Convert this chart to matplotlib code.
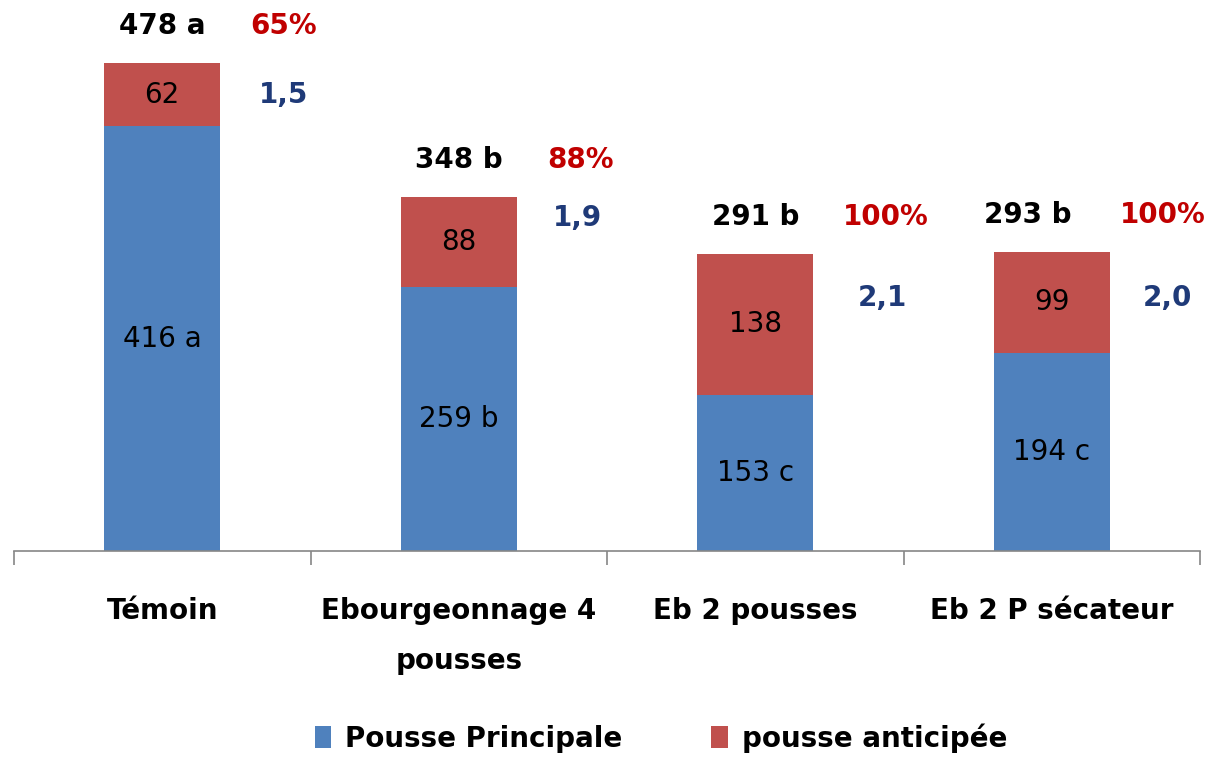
import matplotlib.pyplot as plt
import numpy as np

# Data
categories = ["Témoin", "Ebourgeonnage 4\npousses", "Eb 2 pousses", "Eb 2 P sécateur"]
principale = [416, 259, 153, 194]
anticipee = [62, 88, 138, 99]
principale_labels = ["416 a", "259 b", "153 c", "194 c"]
anticipee_labels = ["62", "88", "138", "99"]
total_labels = ["478 a", "348 b", "291 b", "293 b"]
pct_labels = ["65%", "88%", "100%", "100%"]
ratio_labels = ["1,5", "1,9", "2,1", "2,0"]

# annotation placement (data units)
ratio_y = [447, 326, 248, 248]
total_dx = [0.0, 0.0, 0.0, -0.08]
pct_dx = [0.41, 0.41, 0.44, 0.375]
ratio_dx = [0.41, 0.40, 0.43, 0.39]

BLUE = "#4F81BD"
RED = "#C0504D"
PCT_RED = "#C00000"
NAVY = "#1F3A78"
AXIS_GRAY = "#868686"

plt.rcParams["font.family"] = ["DejaVu Sans"]

fig = plt.figure(figsize=(12.06, 7.58), dpi=100)
ax = fig.add_axes([14 / 1206, 1 - 551 / 758, (1200 - 14) / 1206, (551 - 40.5) / 758])

x = np.arange(len(categories))
width = 0.39
principale = np.array(principale)
anticipee = np.array(anticipee)
totals = principale + anticipee

ax.bar(x, principale, width, color=BLUE, label="Pousse Principale")
ax.bar(x, anticipee, width, bottom=principale, color=RED, label="pousse anticipée")

for i in range(len(x)):
    ax.text(x[i], principale[i] / 2, principale_labels[i], ha="center", va="center",
            fontsize=20, color="black")
    ax.text(x[i], principale[i] + anticipee[i] / 2, anticipee_labels[i], ha="center",
            va="center", fontsize=20, color="black")
    ax.text(x[i] + total_dx[i], totals[i] + 36, total_labels[i], ha="center", va="center",
            fontsize=20, fontweight="bold", color="black")
    ax.text(x[i] + pct_dx[i], totals[i] + 36, pct_labels[i], ha="center", va="center",
            fontsize=20, fontweight="bold", color=PCT_RED)
    ax.text(x[i] + ratio_dx[i], ratio_y[i], ratio_labels[i], ha="center", va="center",
            fontsize=20, fontweight="bold", color=NAVY)

ax.set_xlim(-0.5, len(x) - 0.5)
ax.set_ylim(0, 500)
for s in ["top", "left", "right"]:
    ax.spines[s].set_visible(False)
ax.spines["bottom"].set_color(AXIS_GRAY)
ax.spines["bottom"].set_linewidth(1.2)
ax.set_yticks([])

ax.set_xticks(x)
ax.set_xticklabels(categories, fontsize=20, fontweight="bold", linespacing=2.0)
ax.tick_params(axis="x", which="major", length=0, pad=33)
ax.set_xticks(np.arange(len(x) + 1) - 0.5, minor=True)
ax.tick_params(axis="x", which="minor", length=10, width=1.2, color=AXIS_GRAY, direction="out")

fig.legend(loc="center", bbox_to_anchor=(0.548, 1 - 738 / 758), ncol=2, frameon=False,
           prop={"size": 20, "weight": "bold"}, handlelength=0.6, handleheight=0.8,
           handletextpad=0.5, columnspacing=3.2)

fig.savefig("out.png", dpi=100)
